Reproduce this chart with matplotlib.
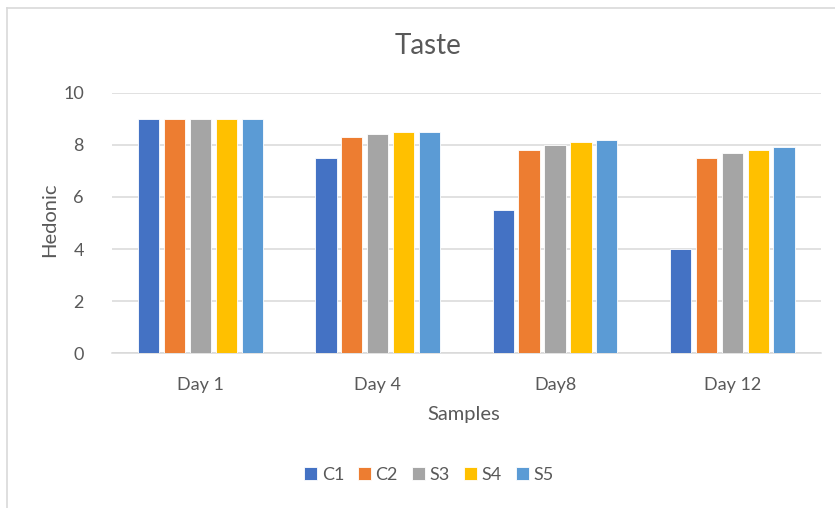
import numpy as np
import matplotlib
matplotlib.use('Agg')
import matplotlib.pyplot as plt
from matplotlib.lines import Line2D

plt.rcParams['font.family'] = ['Lato', 'DejaVu Sans']

days = ['Day 1', 'Day 4', 'Day8', 'Day 12']
series = ['C1', 'C2', 'S3', 'S4', 'S5']
c1 = [9.0, 7.5, 5.5, 4.0]
c2 = [9.0, 8.3, 7.8, 7.5]
s3 = [9.0, 8.4, 8.0, 7.7]
s4 = [9.0, 8.5, 8.1, 7.8]
s5 = [9.0, 8.5, 8.2, 7.9]
values = [c1, c2, s3, s4, s5]
colors = ['#4472C4', '#ED7D31', '#A5A5A5', '#FFC000', '#5B9BD5']

TXT = '#595959'
GRID = '#d9d9d9'

fig = plt.figure(figsize=(8.35, 5.08), dpi=100)
ax = fig.add_axes([0.1338, 0.3045, 0.8494, 0.513])

x = np.arange(len(days))
slot = 0.146
width = 0.12
for j, (name, vals, col) in enumerate(zip(series, values, colors)):
    ax.bar(x + (j - 2) * slot, vals, width=width, color=col, label=name,
           edgecolor='white', linewidth=0.6, zorder=3)

ax.set_xlim(-0.5, len(days) - 0.5)
ax.set_ylim(0, 10)
ax.set_yticks(range(0, 11, 2))
ax.set_xticks(x)
ax.set_xticklabels(days)
ax.grid(axis='y', color=GRID, linewidth=1.1, zorder=0)
for s in ['top', 'right', 'left']:
    ax.spines[s].set_visible(False)
ax.spines['bottom'].set_color(GRID)
ax.spines['bottom'].set_linewidth(1.1)
ax.tick_params(axis='both', length=0, labelsize=13, colors=TXT)
ax.tick_params(axis='y', pad=20)
ax.tick_params(axis='x', pad=17)

ax.set_xlabel('Samples', fontsize=14.5, color=TXT, va='center')
ax.xaxis.set_label_coords(0.497, -0.233)
ax.set_ylabel('Hedonic', fontsize=14.5, color=TXT, va='center')
ax.yaxis.set_label_coords(-0.087, 0.511)

fig.text(428 / 835, 1 - 46 / 508, 'Taste', fontsize=20, color=TXT,
         ha='center', va='center')

fig.legend(loc='center', bbox_to_anchor=(429 / 835, 1 - 475 / 508), ncol=5,
           frameon=False, fontsize=13, labelcolor=TXT, handlelength=0.7,
           handleheight=0.7, handletextpad=0.25, columnspacing=0.8)

# chart area border (top and left edges visible)
fig.add_artist(Line2D([6.5 / 835, 1.0], [1 - 7.5 / 508, 1 - 7.5 / 508],
                      transform=fig.transFigure, color=GRID, linewidth=1.2))
fig.add_artist(Line2D([6.5 / 835, 6.5 / 835], [0, 1 - 7.5 / 508],
                      transform=fig.transFigure, color=GRID, linewidth=1.2))

fig.savefig('out.png', dpi=100)
